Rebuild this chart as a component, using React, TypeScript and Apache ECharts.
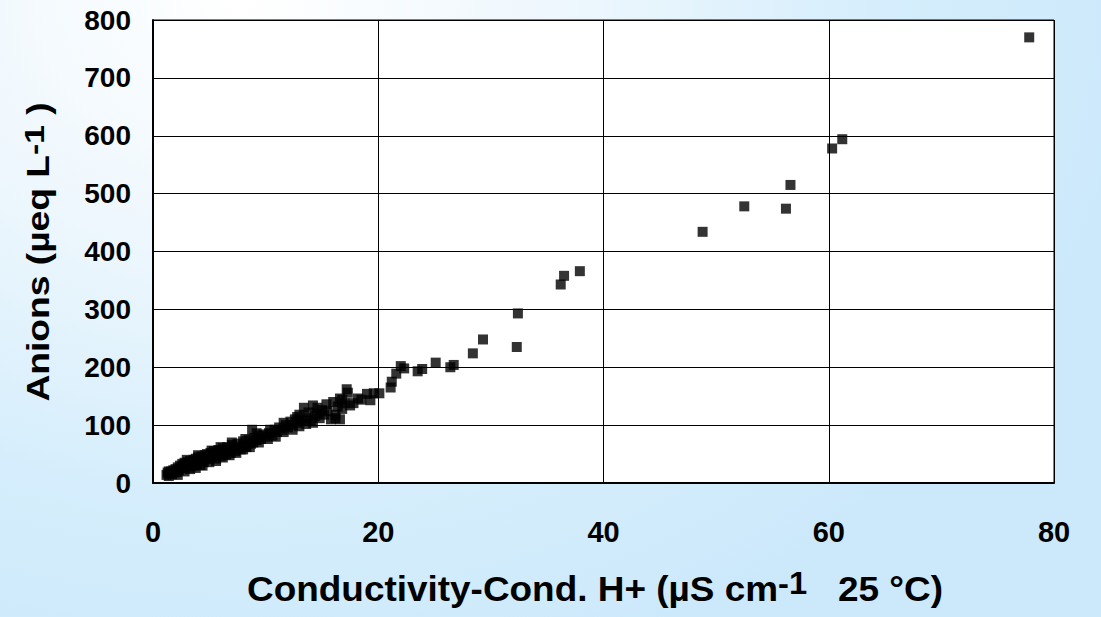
import React, { useEffect, useRef } from "react";
import * as echarts from "echarts";

const xTicks = [0, 20, 40, 60, 80];
const yTicks = [0, 100, 200, 300, 400, 500, 600, 700, 800];

// Conductivity-Cond. H+ (µS/cm at 25 °C)
const conductivity: number[] = [
  1.2, 1.3, 1.4, 1.5, 1.6, 1.7, 1.8, 1.9, 2.0, 2.1, 2.2, 2.3, 2.4, 2.5, 2.6, 2.7, 2.8, 2.9,
  3.0, 3.1, 3.2, 3.3, 3.4, 3.5, 3.6, 3.7, 3.8, 3.9, 4.0, 4.1, 4.2, 4.3, 4.4, 4.5, 4.6, 4.7,
  4.8, 4.9, 5.0, 5.1, 5.2, 5.4, 5.5, 5.6, 5.8, 5.9, 6.0, 6.2, 6.3, 6.5, 6.6, 6.8, 6.9, 7.0,
  7.2, 7.3, 7.5, 7.6, 7.8, 8.0, 8.1, 8.3, 8.5, 8.7, 8.8, 8.9, 9.0, 9.2, 9.4, 9.6, 9.8, 10.0,
  10.3, 10.6, 10.8, 11.0, 11.2, 11.5, 11.8, 12.0, 12.2, 12.4, 12.6, 12.8, 13.0, 13.2, 13.4,
  13.6, 13.8, 14.0, 14.2, 14.4, 14.6, 14.8, 15.0, 15.2, 15.5, 15.8, 16.0, 16.2, 16.4, 16.6,
  16.6, 16.8, 17.0, 17.2, 17.3, 17.5, 17.8, 18.2, 18.5, 19.0, 19.3, 19.6, 20.1, 21.1, 21.2,
  21.6, 22.0, 22.3, 23.5, 23.9, 25.1, 26.4, 26.7, 28.4, 29.3, 32.3, 32.4, 36.2, 36.5, 37.9,
  48.8, 52.5, 56.2, 56.6, 60.3, 61.2, 77.8,
  1.4, 2.2, 2.8, 3.3, 3.8, 4.4, 5.0, 5.6, 6.2, 6.8, 7.4, 8.0, 8.6, 9.4, 10.2, 10.9, 11.6,
  12.4, 13.0, 13.6, 14.2, 3.0, 4.0, 5.2, 6.0, 7.0, 8.2, 9.2, 10.4, 11.6, 12.8, 14.6, 15.4,
  16.2, 16.8,
];

// Anions (µeq/L)
const anions: number[] = [
  14, 18, 12, 16, 20, 15, 22, 18, 24, 19, 27, 22, 30, 25, 33, 28, 35, 26,
  32, 36, 30, 38, 34, 29, 40, 36, 42, 33, 44, 38, 31, 46, 40, 36, 48, 43,
  50, 41, 46, 52, 44, 55, 48, 42, 57, 50, 46, 60, 53, 49, 62, 56, 52, 66,
  60, 55, 68, 62, 58, 72, 65, 62, 74, 68, 92, 70, 78, 74, 82, 76, 84, 80,
  86, 82, 92, 88, 96, 92, 100, 96, 106, 100, 110, 104, 118, 108, 130,
  112, 122, 108, 134, 116, 120, 112, 126, 118, 124, 110, 140, 118, 132, 146,
  110, 128, 138, 162, 156, 134, 138, 146, 144, 154, 143, 155, 155, 165, 175,
  189, 202, 198, 193, 197, 208, 200, 204, 224, 248, 235, 293, 343, 358, 366,
  434, 478, 474, 515, 578, 594, 770,
  20, 14, 20, 24, 26, 30, 36, 38, 44, 48, 52, 58, 62, 70, 76, 80, 88,
  92, 98, 102, 104, 40, 48, 56, 62, 70, 76, 86, 92, 104, 114, 130, 136,
  112, 144,
];

const FONT = "'Liberation Sans', Arial, sans-serif";

export default function App() {
  const ref = useRef<HTMLDivElement>(null);

  useEffect(() => {
    document.body.style.margin = "0";
    if (!ref.current) return;
    const chart = echarts.init(ref.current, undefined, { renderer: "svg" });
    const points = conductivity.map((x, i) => [x, anions[i]]);

    chart.setOption({
      animation: false,
      backgroundColor: "transparent",
      grid: {
        left: 153,
        right: 47,
        top: 20,
        bottom: 134,
        show: true,
        backgroundColor: "#ffffff",
        borderColor: "#000000",
        borderWidth: 1,
      },
      xAxis: {
        type: "value",
        min: xTicks[0],
        max: xTicks[xTicks.length - 1],
        interval: 20,
        axisLine: { show: true, onZero: false, lineStyle: { color: "#000", width: 2 } },
        axisTick: { show: false },
        splitLine: { show: true, lineStyle: { color: "#000", width: 1 } },
        axisLabel: {
          margin: 34,
          color: "#000",
          fontSize: 29,
          fontWeight: "bold",
          fontFamily: FONT,
        },
      },
      yAxis: {
        type: "value",
        min: yTicks[0],
        max: yTicks[yTicks.length - 1],
        interval: 100,
        axisLine: { show: true, lineStyle: { color: "#000", width: 2 } },
        axisTick: { show: false },
        splitLine: { show: true, lineStyle: { color: "#000", width: 1 } },
        axisLabel: {
          margin: 22,
          color: "#000",
          fontSize: 28,
          fontWeight: "bold",
          fontFamily: FONT,
        },
      },
      series: [
        {
          type: "scatter",
          data: points,
          symbol: "rect",
          symbolSize: 10,
          itemStyle: { color: "#000" },
        },
      ],
      graphic: [
        {
          type: "text",
          x: 38,
          y: 252,
          rotation: Math.PI / 2,
          scaleX: 1.2,
          style: {
            text: "{a|Anions (µeq L}{s|-1}{a| )}",
            textAlign: "center",
            textVerticalAlign: "middle",
            rich: {
              a: { fontSize: 31, fontWeight: "bold", fontFamily: FONT, fill: "#000" },
              s: {
                fontSize: 28,
                fontWeight: "bold",
                fontFamily: FONT,
                fill: "#000",
                padding: [0, 0, 8, 0],
              },
            },
          },
        },
        {
          type: "text",
          x: 595,
          y: 589,
          scaleX: 1.055,
          style: {
            text: "{a|Conductivity-Cond. H+ (µS cm}{s|-1}{a|   25 °C)}",
            textAlign: "center",
            textVerticalAlign: "middle",
            rich: {
              a: { fontSize: 35, fontWeight: "bold", fontFamily: FONT, fill: "#000" },
              s: {
                fontSize: 31,
                fontWeight: "bold",
                fontFamily: FONT,
                fill: "#000",
                padding: [0, 0, 12, 0],
              },
            },
          },
        },
      ],
    });

    return () => chart.dispose();
  }, []);

  return (
    <div
      ref={ref}
      style={{
        width: 1101,
        height: 617,
        background:
          "radial-gradient(ellipse 900px 700px at 22% 0%, #ffffff 0%, #eef7fd 35%, #d6eefc 70%, #cce9fb 100%)",
      }}
    />
  );
}
